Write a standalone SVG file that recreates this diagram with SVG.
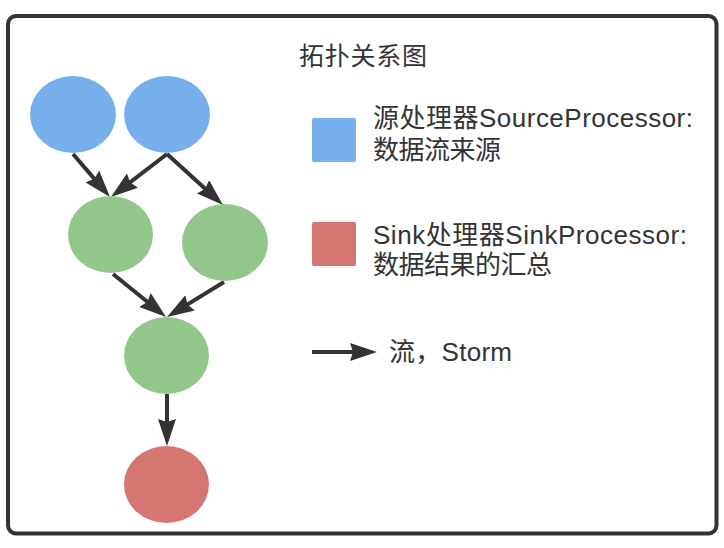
<svg xmlns="http://www.w3.org/2000/svg" width="724" height="548" viewBox="0 0 724 548">
  <style>
    .src { fill: #77afec; }
    .mid { fill: #92c68b; }
    .sink { fill: #d57673; }
    .edge { stroke: #333333; stroke-width: 4; fill: none; marker-end: url(#arrow); }
    .txt { font-family: "Liberation Sans", "Noto Sans CJK SC", sans-serif; font-size: 26px; fill: #333333; }
  </style>
  <defs>
    <marker id="arrow" markerUnits="userSpaceOnUse" viewBox="0 0 27 18" markerWidth="27" markerHeight="18" refX="10" refY="9" orient="auto">
      <path d="M0,0 L27,9 L0,18 L3,9 Z" fill="#333333"/>
    </marker>
  </defs>
  <rect x="8" y="16" width="708.5" height="517.5" rx="8" ry="8" fill="#ffffff" stroke="#333333" stroke-width="4"/>

  <g id="connectors">
    <line class="edge" x1="73" y1="154" x2="98.9" y2="184.1"/>
    <line class="edge" x1="167" y1="154" x2="124.5" y2="186.6"/>
    <line class="edge" x1="167" y1="154" x2="210.4" y2="193.5"/>
    <line class="edge" x1="113" y1="274" x2="152.8" y2="306.3"/>
    <line class="edge" x1="224" y1="282" x2="181.5" y2="308.1"/>
    <line class="edge" x1="167" y1="394" x2="167" y2="429"/>
  </g>

  <g id="source1"><ellipse class="src" cx="73" cy="114.5" rx="43" ry="38.5"/></g>
  <g id="source2"><ellipse class="src" cx="167" cy="114.5" rx="43" ry="38.5"/></g>
  <g id="proc1"><ellipse class="mid" cx="110.5" cy="234.5" rx="42.5" ry="38.5"/></g>
  <g id="proc2"><ellipse class="mid" cx="225" cy="242.5" rx="43" ry="38.5"/></g>
  <g id="proc3"><ellipse class="mid" cx="166.5" cy="355.5" rx="42.5" ry="38.5"/></g>
  <g id="sink"><ellipse class="sink" cx="166.5" cy="484.5" rx="42.5" ry="38.5"/></g>

  <g id="legend">
    <text class="txt" x="299" y="65" style="font-size:25px" textLength="128" lengthAdjust="spacing">拓扑关系图</text>
    <rect class="src" x="312" y="118" width="44" height="44" rx="2"/>
    <text class="txt" x="373" y="127" textLength="320" lengthAdjust="spacing">源处理器SourceProcessor:</text>
    <text class="txt" x="373" y="159" textLength="128" lengthAdjust="spacing">数据流来源</text>
    <rect class="sink" x="312" y="222" width="44" height="44" rx="2"/>
    <text class="txt" x="373" y="244" textLength="314" lengthAdjust="spacing">Sink处理器SinkProcessor:</text>
    <text class="txt" x="373" y="274" textLength="179" lengthAdjust="spacing">数据结果的汇总</text>
    <line class="edge" x1="312" y1="352" x2="360" y2="352"/>
    <text class="txt" x="389" y="361" textLength="123" lengthAdjust="spacing">流，Storm</text>
  </g>
</svg>
